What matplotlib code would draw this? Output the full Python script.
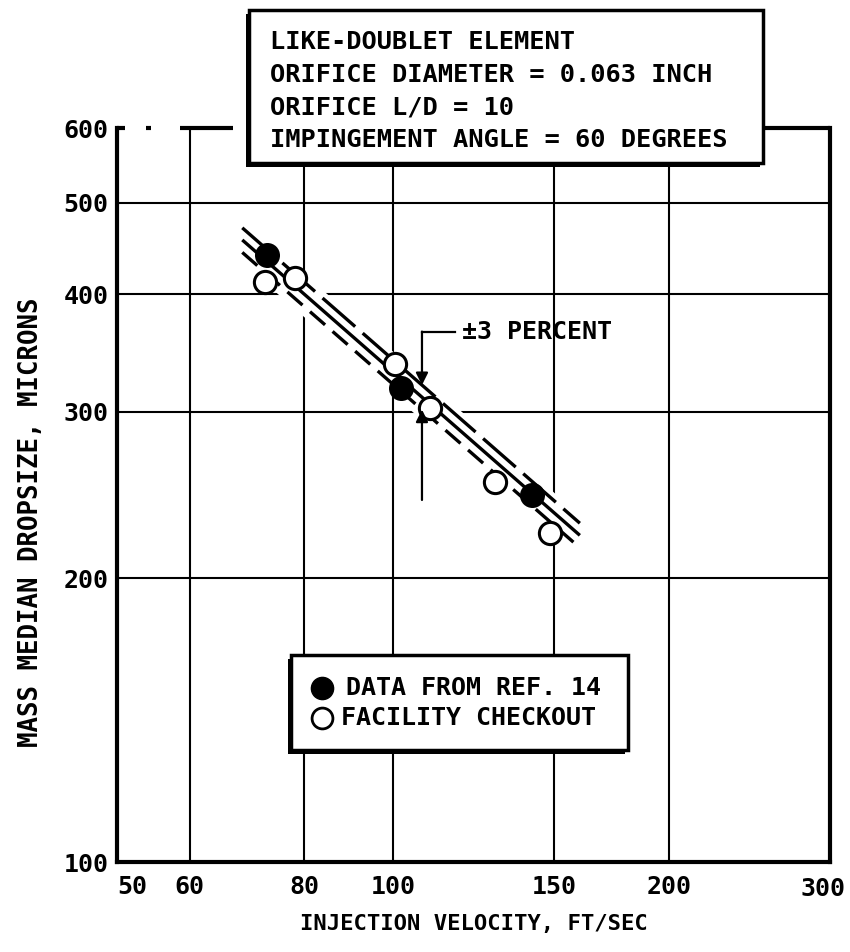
import numpy as np
import matplotlib.pyplot as plt
from matplotlib.patches import Rectangle
from matplotlib.lines import Line2D

# data
v_ref = [72.9, 102.0, 141.7]          # ft/sec, filled points (ref. 14)
d_ref = [440, 318, 245]               # microns
v_fac = [72.6, 78.2, 100.6, 109.7, 129.4, 148.6]   # facility checkout
d_fac = [412, 416, 337, 303, 253, 223]

# correlation line  D = c100 * (V/100)^-n  with +-3 percent band
c100 = 331.0
n_exp = 0.85
band_pct = 3.0
v_line = np.geomspace(68.5, 160.0, 50)

x_ticks = [50, 60, 80, 100, 150, 200, 300]
y_ticks = [100, 200, 300, 400, 500, 600]

box_lines = ["LIKE-DOUBLET ELEMENT",
             "ORIFICE DIAMETER = 0.063 INCH",
             "ORIFICE L/D = 10",
             "IMPINGEMENT ANGLE = 60 DEGREES"]

font = "DejaVu Sans Mono"
plt.rcParams['font.family'] = font
plt.rcParams['font.weight'] = 'bold'

W, H = 850, 952
fig = plt.figure(figsize=(W / 100, H / 100), dpi=100)
ax = fig.add_axes([117 / W, 1 - 862 / H, (830 - 117) / W, (862 - 128) / H])
ax.set_xscale('log')
ax.set_yscale('log')
ax.set_xlim(50, 300)
ax.set_ylim(100, 600)

ax.xaxis.set_major_locator(plt.FixedLocator(x_ticks))
ax.yaxis.set_major_locator(plt.FixedLocator(y_ticks))
ax.xaxis.set_minor_locator(plt.NullLocator())
ax.yaxis.set_minor_locator(plt.NullLocator())
# last x label sits at the right corner, drawn separately so it stays on the page
ax.set_xticklabels([str(t) for t in x_ticks[:-1]] + [''], fontsize=18, fontweight='bold')
ax.set_yticklabels([str(t) for t in y_ticks], fontsize=18, fontweight='bold')
ax.tick_params(length=0, pad=6)
ax.tick_params(axis='x', pad=9)
ax.get_xticklabels()[0].set_horizontalalignment('left')
ax.annotate(str(x_ticks[-1]), xy=(x_ticks[-1], 100), xytext=(11.5, -11),
            textcoords='offset points', ha='right', va='top',
            fontsize=18, fontweight='bold', annotation_clip=False)

for t in x_ticks[1:-1]:
    ax.axvline(t, color='black', lw=1.5, zorder=1)
for t in y_ticks[1:-1]:
    ax.axhline(t, color='black', lw=1.5, zorder=1)

for side in ['left', 'right', 'bottom']:
    ax.spines[side].set_linewidth(3)
ax.spines['top'].set_visible(False)

# broken top border left of the note box, solid to the right of it
for seg in ([50, 51.0], [53.8, 54.4], [58.6, 66.9], [250, 300]):
    ax.plot(seg, [600, 600], color='black', lw=3, clip_on=False,
            solid_capstyle='butt', zorder=5)

# correlation and band
d_mid = c100 * (v_line / 100.0) ** (-n_exp)
d_up = d_mid * (1 + band_pct / 100)
d_lo = d_mid * (1 - band_pct / 100)
ax.fill_between(v_line, d_lo * 0.975, d_up * 1.02, color='white', lw=0, zorder=2)
ax.plot(v_line, d_mid, color='black', lw=2.4, zorder=3, solid_capstyle='butt')
ax.plot(v_line, d_up, color='black', lw=2.4, zorder=3, dashes=(13, 3))
ax.plot(v_line, d_lo, color='black', lw=2.4, zorder=3, dashes=(6, 3))

ax.plot(v_ref, d_ref, 'o', ms=16, mfc='black', mec='black', mew=2, zorder=4)
ax.plot(v_fac, d_fac, 'o', ms=16, mfc='white', mec='black', mew=2.2, zorder=4)

# +-3 percent callout
x_arr = 107.6
ax.plot([x_arr, 117.0], [365, 365], color='black', lw=1.6, zorder=5)
ax.annotate('', xy=(x_arr, c100 * (x_arr / 100) ** (-n_exp) * (1 + band_pct / 100)),
            xytext=(x_arr, 365),
            arrowprops=dict(arrowstyle='-|>', color='black', lw=1.6,
                            mutation_scale=18, shrinkA=0, shrinkB=0), zorder=5)
ax.annotate('', xy=(x_arr, c100 * (x_arr / 100) ** (-n_exp) * (1 - band_pct / 100)),
            xytext=(x_arr, 242),
            arrowprops=dict(arrowstyle='-|>', color='black', lw=1.6,
                            mutation_scale=18, shrinkA=0, shrinkB=0), zorder=5)
ax.text(119, 365, '\u00b13 PERCENT', fontsize=18, fontweight='bold',
        va='center', ha='left', zorder=5)

ax.set_xlabel('INJECTION VELOCITY, FT/SEC', fontsize=16, fontweight='bold')
ax.xaxis.set_label_coords(0.5, -0.071)
ax.set_ylabel('MASS MEDIAN DROPSIZE, MICRONS', fontsize=18.5, fontweight='bold')
ax.yaxis.set_label_coords(-0.103, 0.463)


def boxed(x0, y0, x1, y1):
    # white box with a heavier shadow along the bottom-left, pixel coords from top-left
    fx = lambda px: px / W
    fy = lambda py: 1 - py / H
    fig.add_artist(Rectangle((fx(x0 - 3), fy(y1 + 4)), fx(x1 - x0), fy(y0) - fy(y1),
                             transform=fig.transFigure, fc='black', ec='black', lw=0, zorder=8))
    fig.add_artist(Rectangle((fx(x0), fy(y1)), fx(x1 - x0), fy(y0) - fy(y1),
                             transform=fig.transFigure, fc='white', ec='black', lw=2.5, zorder=9))


boxed(249, 10, 763, 163)
for i, line in enumerate(box_lines):
    fig.text(270 / W, 1 - (42 + 32.7 * i) / H, line, fontsize=18.3, fontweight='bold',
             va='center', ha='left', zorder=10)

boxed(291, 655, 628, 750)
fig.add_artist(Line2D([322 / W], [1 - 688 / H], marker='o', ms=16, mfc='black', mec='black',
                      transform=fig.transFigure, zorder=10))
fig.add_artist(Line2D([322 / W], [1 - 718 / H], marker='o', ms=15, mfc='white', mec='black',
                      mew=2, transform=fig.transFigure, zorder=10))
fig.text(346 / W, 1 - 688 / H, 'DATA FROM REF. 14', fontsize=18, fontweight='bold',
         va='center', ha='left', zorder=10)
fig.text(341 / W, 1 - 718 / H, 'FACILITY CHECKOUT', fontsize=18, fontweight='bold',
         va='center', ha='left', zorder=10)

fig.savefig('out.png', dpi=100, facecolor='white')
